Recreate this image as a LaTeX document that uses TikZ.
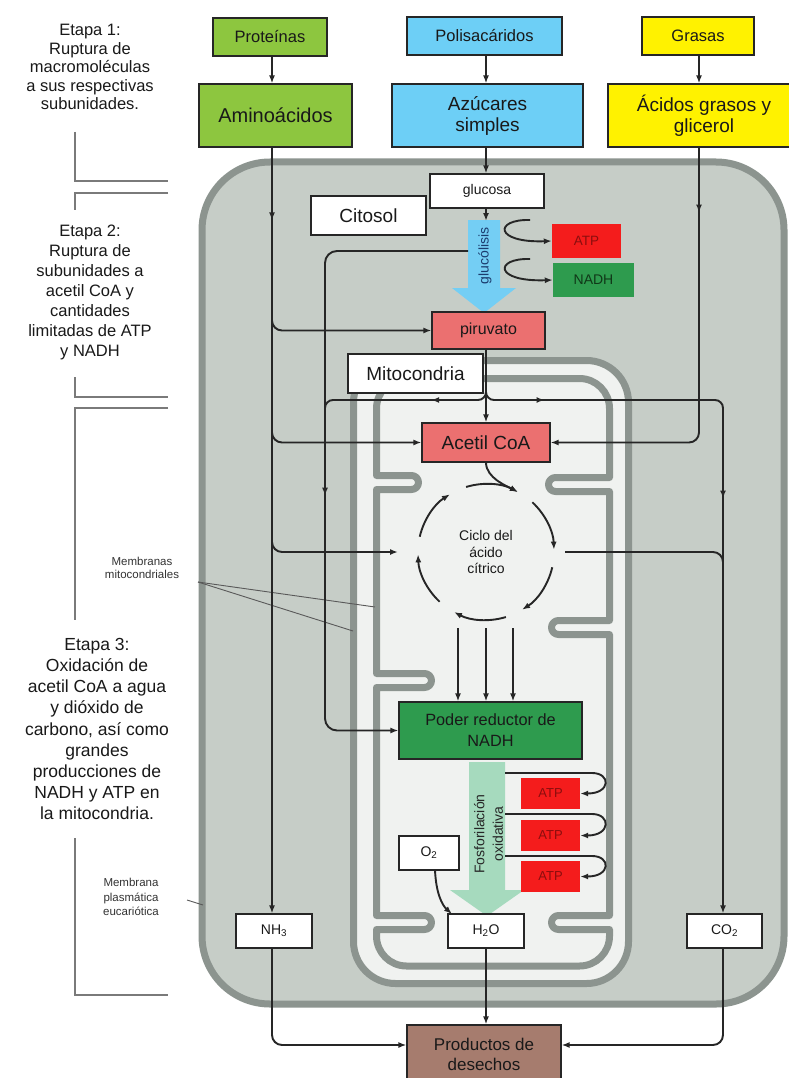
\documentclass[tikz,border=0pt]{standalone}
\usepackage{fontspec}
\setmainfont{Liberation Sans}
\usetikzlibrary{arrows.meta,decorations.markings,shadows,calc}
\newcommand\fsz[2]{\fontsize{#1}{#2}\selectfont}
\definecolor{grn}{HTML}{8DC63F}
\definecolor{blu}{HTML}{6DCFF6}
\definecolor{yel}{HTML}{FFF200}
\definecolor{salmon}{HTML}{EB7070}
\definecolor{dgrn}{HTML}{2E9B4E}
\definecolor{atpred}{HTML}{F41C1C}
\definecolor{atptext}{HTML}{8B0E0E}
\definecolor{nadhtext}{HTML}{103818}
\definecolor{brownbox}{HTML}{A67C6E}
\definecolor{cellfill}{HTML}{C6CDC7}
\definecolor{membr}{HTML}{8C948F}
\definecolor{mitofill}{HTML}{F0F2F0}
\definecolor{glyc}{HTML}{74CEF4}
\definecolor{glyctext}{HTML}{1B3C6E}
\definecolor{fosf}{HTML}{A6DABE}
\definecolor{bracketc}{HTML}{7A7A7A}
\begin{document}
\begin{tikzpicture}[x=1pt,y=1pt,
  box/.style={draw=black!85, line width=1.2pt, inner sep=1pt, align=center, text=black!90,
    drop shadow={shadow xshift=1.2pt, shadow yshift=-1.2pt, opacity=0.6, fill=black!70}},
  flat/.style={inner sep=1pt, align=center},
  conn/.style={draw=black!85, line width=1.9pt},
  endarrow/.style={-{Latex[length=8pt,width=6pt]}},
  midarr/.style={postaction={decorate,decoration={markings,mark=at position #1 with {\arrow{Latex[length=8pt,width=6pt]}}}}},
  membrane/.style={draw=membr, line width=7pt, line join=round},
  bracketline/.style={draw=bracketc, line width=1.5pt},
  pointer/.style={draw=black!65, line width=0.9pt},
  stage/.style={align=center, text=black!90, inner sep=0pt}
]
\useasboundingbox (0,0) rectangle (788,-1078);
\fill[white] (0,0) rectangle (788,-1078);

% ---------- cell ----------
\draw[draw=membr, fill=cellfill, line width=7pt, rounded corners=68pt] (202,-162) rectangle (784,-1004);

% ---------- mitochondrion ----------
\draw[draw=membr, fill=mitofill, line width=7pt, rounded corners=42pt] (353.5,-360.5) rectangle (628.5,-983.5);
\draw[membrane] (406.5,-378.5) -- (579.5,-378.5) arc[start angle=90,end angle=0,radius=30]
  -- (609.5,-477.5) -- (555.5,-477.5) arc[start angle=90,end angle=270,radius=7]
  -- (609.5,-491.5) -- (609.5,-620.5) -- (558.5,-620.5) arc[start angle=90,end angle=270,radius=7]
  -- (609.5,-634.5) -- (609.5,-915.5) -- (558.5,-915.5) arc[start angle=90,end angle=270,radius=7]
  -- (609.5,-929.5) -- (609.5,-936) arc[start angle=0,end angle=-90,radius=30]
  -- (406.5,-966) arc[start angle=270,end angle=180,radius=30]
  -- (376.5,-929.5) -- (424.5,-929.5) arc[start angle=-90,end angle=90,radius=7]
  -- (376.5,-915.5) -- (376.5,-687.5) -- (424.5,-687.5) arc[start angle=-90,end angle=90,radius=7]
  -- (376.5,-673.5) -- (376.5,-489.5) -- (411.5,-489.5) arc[start angle=-90,end angle=90,radius=7]
  -- (376.5,-475.5) -- (376.5,-408.5) arc[start angle=180,end angle=90,radius=30] -- cycle;

% ---------- stage brackets ----------
\draw[bracketline] (75,-132) -- (75,-181) -- (168,-181);
\draw[bracketline] (168,-193) -- (75,-193) -- (75,-210);
\draw[bracketline] (75,-377) -- (75,-397) -- (168,-397);
\draw[bracketline] (168,-408) -- (75,-408) -- (75,-620);
\draw[bracketline] (75,-838) -- (75,-995) -- (168,-995);

% ---------- stage texts ----------
\node[stage, font=\fsz{16.5}{18.5}] (etapa1) at (90,-67) {Etapa 1:\\Ruptura de\\macromoléculas\\a sus respectivas\\subunidades.};
\node[stage, font=\fsz{16.5}{20}] (etapa2) at (90,-292) {Etapa 2:\\Ruptura de\\subunidades a\\acetil CoA y\\cantidades\\limitadas de ATP\\y NADH};
\node[stage, font=\fsz{17.5}{21.2}] (etapa3) at (97,-729) {Etapa 3:\\Oxidación de\\acetil CoA a agua\\y dióxido de\\carbono, así como\\grandes\\producciones de\\NADH y ATP en\\la mitocondria.};
\node[stage, font=\fsz{11.5}{13}, text=black!80] (memmito) at (142,-568) {Membranas\\mitocondriales};
\node[stage, font=\fsz{11.5}{14.5}, text=black!80] (memplas) at (131,-897) {Membrana\\plasmática\\eucariótica};
\coordinate (mmroot) at (198,-582);
\coordinate (mminner) at (375,-607);
\coordinate (mmouter) at (353,-631);
\draw[pointer] (mmroot) -- (mminner);
\draw[pointer] (mmroot) -- (mmouter);
\coordinate (mproot) at (187,-900);
\coordinate (mpcell) at (203,-905);
\draw[pointer] (mproot) -- (mpcell);

% ---------- big arrows ----------
\fill[glyc] (468,-220) -- (500,-220) -- (500,-288) -- (516,-288) -- (484,-313) -- (452,-288) -- (468,-288) -- cycle;
\node[rotate=90, font=\fsz{14}{16}, text=glyctext, inner sep=0pt] (glytext) at (485,-256) {glucólisis};
\fill[fosf] (469,-762) -- (505,-762) -- (505,-890) -- (524,-890) -- (487,-916) -- (450,-890) -- (469,-890) -- cycle;
\node[rotate=90, align=center, font=\fsz{14}{18.5}, text=black!85, inner sep=0pt] (fostext) at (488.5,-834) {Fosforilación\\oxidativa};

% ---------- nodes ----------
\node[box, fill=grn, minimum width=114pt, minimum height=38pt, font=\fsz{16.5}{19}] (prot) at (270,-37) {Proteínas};
\node[box, fill=grn, minimum width=153pt, minimum height=63pt, font=\fsz{20}{22}] (amino) at (275.5,-115.5) {Aminoácidos};
\node[box, fill=blu, minimum width=155pt, minimum height=38pt, font=\fsz{16.5}{19}] (poli) at (484.5,-36) {Polisacáridos};
\node[box, fill=blu, minimum width=191pt, minimum height=63pt, font=\fsz{19}{21}] (azucar) at (487.5,-115.5) {Azúcares\\simples};
\node[box, fill=yel, minimum width=112pt, minimum height=38pt, font=\fsz{16.5}{19}] (grasas) at (698,-36) {Grasas};
\node[box, fill=yel, minimum width=192pt, minimum height=63pt, font=\fsz{19}{21}] (acidos) at (704,-115.5) {Ácidos grasos y\\glicerol};
\node[box, fill=white, minimum width=114pt, minimum height=34pt, font=\fsz{14}{16}] (glucosa) at (487,-191) {glucosa};
\node[box, fill=white, minimum width=115pt, minimum height=39pt, font=\fsz{19}{21}] (citosol) at (368.5,-215.5) {Citosol};
\node[flat, fill=atpred, minimum width=69pt, minimum height=34pt, font=\fsz{13.5}{15}, text=atptext] (atp1) at (586.5,-241) {ATP};
\node[flat, fill=dgrn, minimum width=81pt, minimum height=34pt, font=\fsz{14}{16}, text=nadhtext] (nadh) at (593.5,-280) {NADH};
\node[box, fill=salmon, minimum width=113pt, minimum height=37pt, font=\fsz{16}{18}] (piru) at (488.5,-330.5) {piruvato};
\node[box, fill=white, minimum width=135pt, minimum height=39pt, font=\fsz{19}{21}] (mitolab) at (415.5,-373.5) {Mitocondria};
\node[box, fill=salmon, minimum width=128pt, minimum height=39pt, font=\fsz{19}{21}] (acetil) at (486,-442.5) {Acetil CoA};
\node[flat, font=\fsz{14}{16.5}, text=black!90] (cyctext) at (486,-552) {Ciclo del\\ácido\\cítrico};
\node[box, fill=dgrn, minimum width=183pt, minimum height=57pt, font=\fsz{16.3}{21}] (poder) at (490.5,-730.5) {Poder reductor de\\NADH};
\node[flat, fill=atpred, minimum width=59pt, minimum height=31pt, font=\fsz{13}{15}, text=atptext] (atpA) at (550.5,-793.5) {ATP};
\node[flat, fill=atpred, minimum width=59pt, minimum height=31pt, font=\fsz{13}{15}, text=atptext] (atpB) at (550.5,-835.5) {ATP};
\node[flat, fill=atpred, minimum width=59pt, minimum height=31pt, font=\fsz{13}{15}, text=atptext] (atpC) at (550.5,-876.5) {ATP};
\node[box, fill=white, minimum width=60pt, minimum height=34pt, font=\fsz{14}{16}] (o2) at (429,-853) {O\textsubscript{2}};
\node[box, fill=white, minimum width=76pt, minimum height=34pt, font=\fsz{14}{16}] (h2o) at (486,-931) {H\textsubscript{2}O};
\node[box, fill=white, minimum width=76pt, minimum height=34pt, font=\fsz{14}{16}] (nh3) at (274,-931) {NH\textsubscript{3}};
\node[box, fill=white, minimum width=75pt, minimum height=34pt, font=\fsz{14}{16}] (co2) at (724.5,-931) {CO\textsubscript{2}};
\node[box, fill=brownbox, minimum width=154pt, minimum height=58pt, font=\fsz{17}{20}] (prod) at (484,-1054) {Productos de\\desechos};

% ---------- helper coordinates ----------
\coordinate (xA) at (272,0);
\coordinate (xB) at (325,0);
\coordinate (xC) at (486,0);
\coordinate (xD) at (699,0);
\coordinate (xE) at (723,0);
\coordinate (brY) at (0,-400);
\coordinate (prodY) at (0,-1045);
\coordinate (cyc) at (486,-552);

% ---------- connectors ----------
\draw[conn, endarrow] (prot.south -| xA) -- (amino.north -| xA);
\draw[conn, endarrow] (poli.south -| xC) -- (azucar.north -| xC);
\draw[conn, endarrow] (grasas.south -| xD) -- (acidos.north -| xD);
\draw[conn, endarrow] (azucar.south -| xC) -- (glucosa.north -| xC);
\coordinate (glytop) at (486,-221);
\draw[conn, endarrow] (glucosa.south -| xC) -- (glytop);

% amino acids line
\draw[conn, endarrow, midarr=0.095] (amino.south -| xA) -- (nh3.north -| xA);
\coordinate (bA1) at (272,-300);
\draw[conn, endarrow, rounded corners=10pt] (bA1) |- (piru.west);
\coordinate (bA2) at (272,-415);
\draw[conn, endarrow, rounded corners=10pt] (bA2) |- (acetil.west);
\coordinate (bA3) at (272,-528);
\coordinate (cycleL) at (398,-552);
\draw[conn, endarrow, rounded corners=10pt] (bA3) |- (cycleL);

% glycolysis to NADH power
\coordinate (glyL) at (468,-251);
\draw[conn, endarrow, rounded corners=12pt, midarr=0.558] (glyL) -- (glyL -| xB) -- (xB |- poder.west) -- (poder.west);

% pyruvate to acetyl CoA, and branches
\draw[conn, endarrow] (piru.south -| xC) -- (acetil.north -| xC);
\coordinate (split) at (486,-392);
\coordinate (mergeB) at (325,-418);
\draw[conn, rounded corners=8pt, midarr=0.33] (split) -- (split |- brY) -- (xB |- brY) -- (mergeB);
\draw[conn, endarrow, rounded corners=8pt, midarr=0.084, midarr=0.448] (split) -- (split |- brY) -- (xE |- brY) -- (co2.north -| xE);

% fatty acids
\draw[conn, endarrow, rounded corners=10pt, midarr=0.148] (acidos.south -| xD) -- (xD |- acetil.east) -- (acetil.east);

% citric acid cycle
\foreach \s in {107,47,-13,-73,-133,167} {
  \draw[conn, endarrow] ($(cyc)+(\s:68)$) arc[start angle=\s, delta angle=-45, radius=68];
}
\coordinate (cycIn) at (517.9,-492);
\draw[conn, endarrow] (acetil.south) .. controls (486,-478) and (507.4,-486.4) .. (cycIn);
\coordinate (cycleR) at (565,-552);
\coordinate (mergeE) at (723,-575);
\draw[conn, rounded corners=10pt] (cycleR) -- (xE |- cycleR) -- (mergeE);
\coordinate (nd1) at (458,-628);
\coordinate (nd2) at (486,-628);
\coordinate (nd3) at (513,-628);
\draw[conn, endarrow] (nd1) -- (nd1 |- poder.north);
\draw[conn, endarrow] (nd2) -- (nd2 |- poder.north);
\draw[conn, endarrow] (nd3) -- (nd3 |- poder.north);

% glycolysis products
\coordinate (g1s) at (530,-220);
\coordinate (g2s) at (530,-259);
\draw[conn, endarrow] (g1s) .. controls (494,-219) and (494,-243) .. (atp1.west);
\draw[conn, endarrow] (g2s) .. controls (494,-258) and (494,-282) .. (nadh.west);

% oxidative phosphorylation ATP
\coordinate (f1) at (505,-773);
\coordinate (f2) at (505,-814);
\coordinate (f3) at (505,-856);
\draw[conn, endarrow] (f1) -- (592,-773) .. controls (611,-773) and (611,-793.5) .. (atpA.east);
\draw[conn, endarrow] (f2) -- (592,-814) .. controls (611,-814) and (611,-835.5) .. (atpB.east);
\draw[conn, endarrow] (f3) -- (592,-856) .. controls (611,-856) and (611,-876.5) .. (atpC.east);

% O2 to water
\coordinate (o2out) at (435,-870);
\coordinate (h2oin) at (452,-914);
\draw[conn, endarrow] (o2out) .. controls (436,-893) and (442,-905) .. (h2oin);

% waste products
\draw[conn, endarrow] (h2o.south) -- (prod.north -| h2o.south);
\draw[conn, endarrow, rounded corners=10pt] (nh3.south -| xA) -- (xA |- prodY) -- (prod.west |- prodY);
\draw[conn, endarrow, rounded corners=10pt] (co2.south -| xE) -- (xE |- prodY) -- (prod.east |- prodY);
\end{tikzpicture}
\end{document}
